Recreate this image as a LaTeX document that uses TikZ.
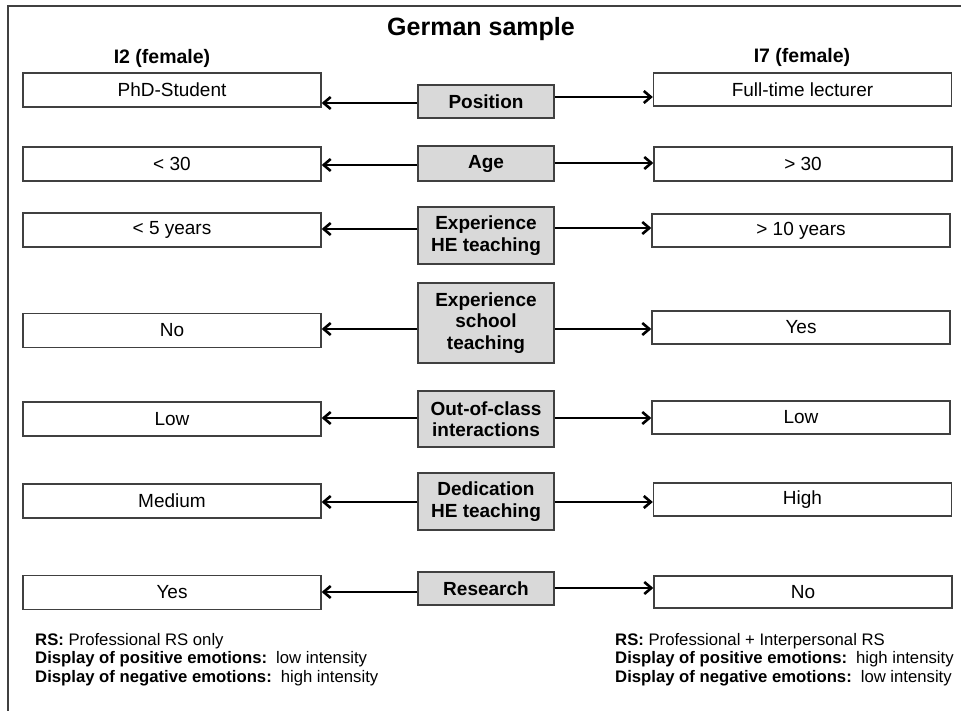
\documentclass[tikz,border=0pt]{standalone}
\usepackage{fontspec}
\setmainfont{Liberation Sans}
\usetikzlibrary{arrows.meta}
\definecolor{boxgray}{HTML}{D9D9D9}
\definecolor{edgegray}{HTML}{404040}
\begin{document}
\begin{tikzpicture}[x=1pt,y=-1pt,
  valbox/.style={draw=edgegray, line width=1.4pt, fill=white, minimum width=298pt, minimum height=34pt, inner sep=0pt, font=\fontsize{19}{21.5}\selectfont},
  catbox/.style={draw=edgegray, line width=1.4pt, fill=boxgray, minimum width=136pt, inner sep=0pt, align=center, font=\fontsize{19}{21.5}\selectfont\bfseries},
  link/.style={line width=2.6pt, -{Straight Barb[length=7pt,width=12pt,line width=2.6pt]}},
  plain/.style={inner sep=0pt, anchor=base},
  note/.style={inner sep=0pt, anchor=base west, font=\fontsize{16.7}{18.5}\selectfont}]
\useasboundingbox (0,0) rectangle (961,711);
\fill[white] (0,0) rectangle (961,711);
\draw[edgegray, line width=1.5pt] (8,711) -- (8,6) -- (961,6);

\node[plain, font=\fontsize{25}{28}\selectfont\bfseries] (title) at (481,36) {German sample};
\node[plain, font=\fontsize{19.5}{22}\selectfont\bfseries] (hl) at (162,64) {I2 (female)};
\node[plain, font=\fontsize{19.5}{22}\selectfont\bfseries] (hr) at (802,63) {I7 (female)};

% category boxes
\node[catbox, minimum height=33pt] (g1) at (486,101.5) {Position};
\node[catbox, minimum height=35pt] (g2) at (486,163.5) {Age};
\node[catbox, minimum height=57pt] (g3) at (486,235.5) {Experience\\HE teaching};
\node[catbox, minimum height=80pt] (g4) at (486,323) {Experience\\school\\teaching};
\node[catbox, minimum height=56pt] (g5) at (486,419) {Out-of-class\\interactions};
\node[catbox, minimum height=57pt] (g6) at (486,501.5) {Dedication\\HE teaching};
\node[catbox, minimum height=33pt] (g7) at (486,588.5) {Research};

% left value boxes
\node[valbox] (l1) at (172,90) {PhD-Student};
\node[valbox] (l2) at (172,164) {< 30};
\node[valbox] (l3) at (172,230) {< 5 years};
\node[valbox] (l4) at (172,330.5) {No};
\node[valbox] (l5) at (172,419) {Low};
\node[valbox] (l6) at (172,501) {Medium};
\node[valbox] (l7) at (172,592.5) {Yes};

% right value boxes
\node[valbox, minimum height=33pt] (r1) at (802.5,89.5) {Full-time lecturer};
\node[valbox] (r2) at (803,164) {> 30};
\node[valbox, minimum height=33pt] (r3) at (801,230.5) {> 10 years};
\node[valbox, minimum height=33pt] (r4) at (801,327.5) {Yes};
\node[valbox, minimum height=33pt] (r5) at (801,417.5) {Low};
\node[valbox, minimum height=33pt] (r6) at (802.5,499.5) {High};
\node[valbox, minimum height=32pt] (r7) at (803,592) {No};

% arrow levels
\path (0,103) coordinate (yl1) (0,97) coordinate (yr1)
      (0,165) coordinate (yl2) (0,163) coordinate (yr2)
      (0,229) coordinate (yl3) (0,228) coordinate (yr3)
      (0,329) coordinate (yl4) (0,329) coordinate (yr4)
      (0,418) coordinate (yl5) (0,418) coordinate (yr5)
      (0,502) coordinate (yl6) (0,502) coordinate (yr6)
      (0,592) coordinate (yl7) (0,588) coordinate (yr7);

\foreach \i in {1,...,7}{
  \draw[link] (g\i.west |- yl\i) -- (l\i.east |- yl\i);
  \draw[link] (g\i.east |- yr\i) -- (r\i.west |- yr\i);
}

% notes
\node[note] (nl1) at (35,645) {\textbf{RS:} Professional RS only};
\node[note] (nl2) at (35,663.5) {\textbf{Display of positive emotions:}\, low intensity};
\node[note] (nl3) at (35,682) {\textbf{Display of negative emotions:}\, high intensity};
\node[note] (nr1) at (615,645) {\textbf{RS:} Professional + Interpersonal RS};
\node[note] (nr2) at (615,663.5) {\textbf{Display of positive emotions:}\, high intensity};
\node[note] (nr3) at (615,682) {\textbf{Display of negative emotions:}\, low intensity};
\end{tikzpicture}
\end{document}
